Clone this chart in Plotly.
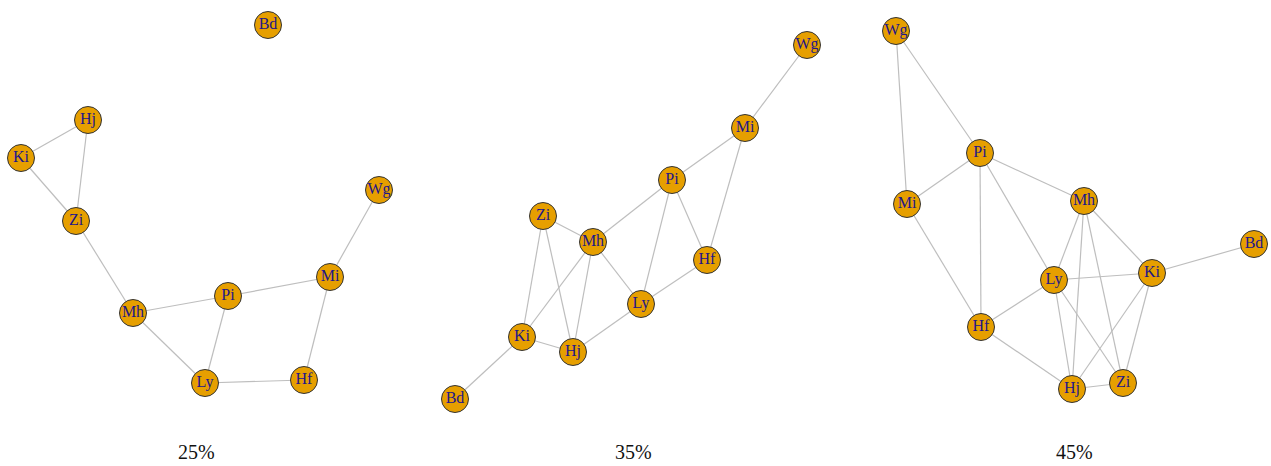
import plotly.graph_objects as go

# Node names shared by all three networks
nodes = ["Bd", "Hj", "Ki", "Zi", "Wg", "Mi", "Pi", "Mh", "Ly", "Hf"]

# Layout positions per network (local panel coordinates, y downwards)
pos_25 = {"Bd": (268, 25), "Hj": (88, 120), "Ki": (21, 158), "Zi": (76, 221),
          "Wg": (379, 190), "Mi": (330, 277), "Pi": (228, 296), "Mh": (133, 313),
          "Ly": (205, 383), "Hf": (304, 380)}
pos_35 = {"Wg": (387, 45), "Mi": (325, 128), "Pi": (252, 180), "Zi": (123, 216),
          "Mh": (173, 242), "Hf": (287, 260), "Ly": (221, 304), "Ki": (102, 337),
          "Hj": (153, 352), "Bd": (35, 399)}
pos_45 = {"Wg": (46, 31), "Pi": (130, 153), "Mi": (57, 204), "Mh": (234, 201),
          "Bd": (404, 244), "Ki": (302, 273), "Ly": (204, 280), "Hf": (131, 327),
          "Hj": (222, 389), "Zi": (273, 383)}

edges_25 = [("Hj", "Ki"), ("Hj", "Zi"), ("Ki", "Zi"), ("Zi", "Mh"), ("Mh", "Pi"),
            ("Mh", "Ly"), ("Pi", "Ly"), ("Pi", "Mi"), ("Mi", "Wg"), ("Mi", "Hf"),
            ("Ly", "Hf")]
edges_35 = [("Wg", "Mi"), ("Mi", "Pi"), ("Mi", "Hf"), ("Pi", "Mh"), ("Pi", "Ly"),
            ("Pi", "Hf"), ("Zi", "Mh"), ("Zi", "Ki"), ("Zi", "Hj"), ("Mh", "Ki"),
            ("Mh", "Hj"), ("Mh", "Ly"), ("Hf", "Ly"), ("Ly", "Hj"), ("Ki", "Hj"),
            ("Ki", "Bd")]
edges_45 = [("Wg", "Mi"), ("Wg", "Pi"), ("Pi", "Mi"), ("Pi", "Hf"), ("Pi", "Ly"),
            ("Pi", "Mh"), ("Mi", "Hf"), ("Mh", "Ly"), ("Mh", "Hj"), ("Mh", "Zi"),
            ("Mh", "Ki"), ("Ki", "Bd"), ("Ki", "Ly"), ("Ki", "Hj"), ("Ki", "Zi"),
            ("Ly", "Hf"), ("Ly", "Hj"), ("Ly", "Zi"), ("Hf", "Hj"), ("Hj", "Zi")]

panel_titles = ["25%", "35%", "45%"]
panels = [(pos_25, edges_25), (pos_35, edges_35), (pos_45, edges_45)]

# Horizontal pixel extents of each panel within the 1271 px figure
W, H = 1271, 466
panel_px = [(0, 420), (420, 850), (850, 1271)]
serif = "Liberation Serif, Times New Roman, serif"

fig = go.Figure()

for i, ((pos, edges), title) in enumerate(zip(panels, panel_titles)):
    ax = "" if i == 0 else str(i + 1)
    ex, ey = [], []
    for a, b in edges:
        ex += [pos[a][0], pos[b][0], None]
        ey += [pos[a][1], pos[b][1], None]
    fig.add_trace(go.Scatter(
        x=ex, y=ey, mode="lines",
        line=dict(color="#BEBEBE", width=1.2),
        hoverinfo="skip", showlegend=False,
        xaxis="x" + ax, yaxis="y" + ax))
    fig.add_trace(go.Scatter(
        x=[pos[n][0] for n in nodes], y=[pos[n][1] for n in nodes],
        mode="markers+text", text=nodes, textposition="middle center",
        textfont=dict(family=serif, size=16, color="#22168A"),
        marker=dict(size=27, color="#E69F00", line=dict(color="#333333", width=1)),
        hoverinfo="text", showlegend=False,
        xaxis="x" + ax, yaxis="y" + ax))

    x0, x1 = panel_px[i]
    fig.layout["xaxis" + ax] = dict(domain=[x0 / W, x1 / W], range=[0, x1 - x0],
                                    visible=False, fixedrange=True)
    fig.layout["yaxis" + ax] = dict(domain=[0, 1], range=[H, 0], visible=False,
                                    fixedrange=True, anchor="x" + ax)

title_x = [196, 633, 1074]
for t, tx in zip(panel_titles, title_x):
    fig.add_annotation(x=tx / W, y=1 / H, xref="paper", yref="paper",
                       xanchor="center", yanchor="bottom",
                       text=t, showarrow=False,
                       font=dict(family=serif, size=20, color="#111111"))

fig.update_layout(width=W, height=H, margin=dict(l=0, r=0, t=0, b=0),
                  paper_bgcolor="white", plot_bgcolor="white")

fig.write_html("out.html")
